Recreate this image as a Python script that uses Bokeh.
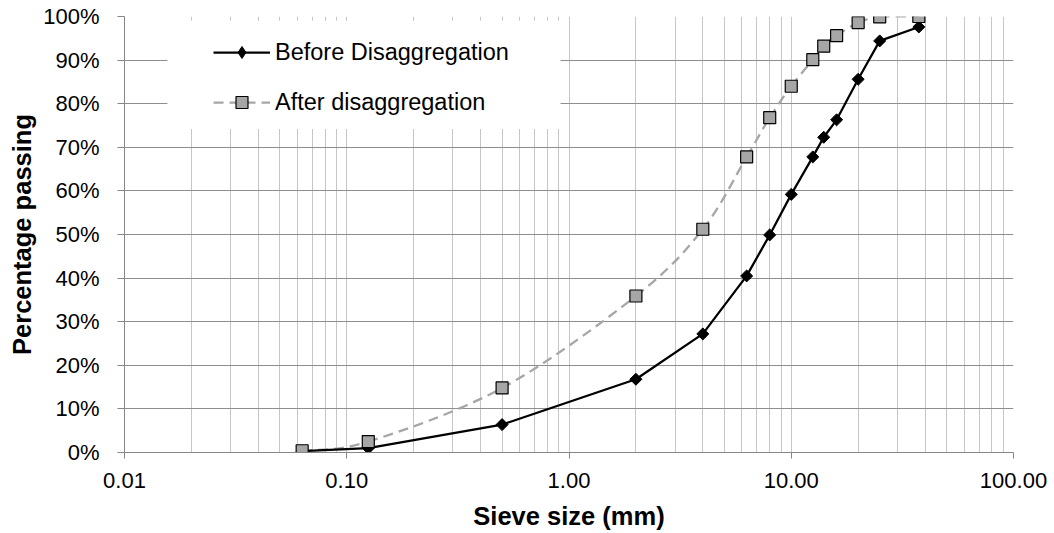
import numpy as np
from bokeh.plotting import figure
from bokeh.models import (FixedTicker, CustomJSTickFormatter, PrintfTickFormatter,
                          Legend, LegendItem, BoxAnnotation, Range1d)
from bokeh.embed import file_html
from bokeh.resources import INLINE

# ---- data ----
sieve_mm = [0.063, 0.125, 0.5, 2, 4, 6.3, 8, 10, 12.5, 14, 16, 20, 25, 37.5]
before_pct = [0.3, 1.0, 6.4, 16.8, 27.2, 40.5, 49.9, 59.2, 67.8, 72.3, 76.3, 85.6, 94.4, 97.6]
after_pct = [0.4, 2.5, 14.8, 35.9, 51.2, 67.8, 76.8, 84.0, 90.1, 93.2, 95.6, 98.6, 99.9, 100.0]
x_ticks = [0.01, 0.1, 1, 10, 100]
y_ticks = [0, 10, 20, 30, 40, 50, 60, 70, 80, 90, 100]
series_names = ["Before Disaggregation", "After disaggregation"]

FONT = "Liberation Sans"
x_minor = [m * 10.0 ** e for e in range(-2, 2) for m in range(2, 10)]

p = figure(x_axis_type="log", x_range=Range1d(0.01, 100), y_range=Range1d(0, 100),
           width=1054, height=533,
           min_border_left=124, min_border_right=41, min_border_top=16, min_border_bottom=81,
           output_backend="svg", toolbar_location=None)
p.outline_line_color = None
p.background_fill_color = "white"

# axes
for ax in (p.xaxis[0], p.yaxis[0]):
    ax.axis_line_color = "#868686"
    ax.major_tick_line_color = "#868686"
    ax.minor_tick_line_color = None
    ax.major_tick_in = 0
    ax.major_label_text_font = FONT
    ax.major_label_text_font_size = "22px"
    ax.major_label_text_color = "black"
    ax.axis_label_text_font = FONT
    ax.axis_label_text_font_size = "25.5px"
    ax.axis_label_text_font_style = "bold"
    ax.axis_label_text_color = "black"

p.xaxis.ticker = FixedTicker(ticks=x_ticks, minor_ticks=x_minor)
p.xaxis.formatter = CustomJSTickFormatter(code="return tick.toFixed(2);")
p.xaxis.major_tick_out = 6
p.xaxis.major_label_standoff = 14
p.xaxis.axis_label = "Sieve size (mm)"
p.xaxis.axis_label_standoff = 11

p.yaxis.ticker = FixedTicker(ticks=y_ticks)
p.yaxis.formatter = PrintfTickFormatter(format="%d%%")
p.yaxis.major_tick_out = 7
p.yaxis.major_label_standoff = 18
p.yaxis.axis_label = "Percentage passing"
p.yaxis.axis_label_standoff = 4

# grids
p.xgrid.grid_line_color = "#C6C6C6"
p.xgrid.minor_grid_line_color = "#C6C6C6"
p.ygrid.grid_line_color = "#8E8E8E"

# After disaggregation: smoothed dashed curve (Catmull-Rom -> Bezier in log-x space)
lx = np.log10(np.array(sieve_mm, dtype=float))
ya = np.array(after_pct, dtype=float)
n = len(lx)
x0s, y0s, x1s, y1s, cx0s, cy0s, cx1s, cy1s = [], [], [], [], [], [], [], []
for i in range(n - 1):
    i0 = max(i - 1, 0)
    i3 = min(i + 2, n - 1)
    c1x = lx[i] + (lx[i + 1] - lx[i0]) / 6.0
    c1y = ya[i] + (ya[i + 1] - ya[i0]) / 6.0
    c2x = lx[i + 1] - (lx[i3] - lx[i]) / 6.0
    c2y = ya[i + 1] - (ya[i3] - ya[i]) / 6.0
    x0s.append(10 ** lx[i]); y0s.append(ya[i])
    x1s.append(10 ** lx[i + 1]); y1s.append(ya[i + 1])
    cx0s.append(10 ** c1x); cy0s.append(c1y)
    cx1s.append(10 ** c2x); cy1s.append(c2y)

after_curve = p.bezier(x0=x0s, y0=y0s, x1=x1s, y1=y1s, cx0=cx0s, cy0=cy0s, cx1=cx1s, cy1=cy1s,
                       line_color="#A6A6A6", line_width=2.25, line_dash="10 6")

before_line = p.line(sieve_mm, before_pct, line_color="black", line_width=2.25)
before_pts = p.scatter(sieve_mm, before_pct, marker="square", angle=np.pi / 4, size=8.5,
                       fill_color="black", line_color="black")
after_pts = p.scatter(sieve_mm, after_pct, marker="square", size=12,
                      fill_color="#A6A6A6", line_color="black", line_width=1.2)

# legend-only proxy for the diamond symbol (legend glyphs are drawn unrotated)
before_key = p.scatter([float("nan")], [float("nan")], marker="diamond", size=12,
                       fill_color="black", line_color="black")

# white legend background
box = BoxAnnotation(left=0.0156, right=0.916, bottom=74.2, top=99.0,
                    fill_color="white", fill_alpha=1.0, line_color=None)
p.add_layout(box)

legend = Legend(items=[LegendItem(label=series_names[0], renderers=[before_line, before_key]),
                       LegendItem(label=series_names[1], renderers=[after_curve, after_pts])],
                location=(89, 335), orientation="vertical",
                background_fill_alpha=0.0, border_line_color=None,
                padding=0, margin=0, spacing=20,
                glyph_width=57, glyph_height=30, label_height=30, label_standoff=5,
                label_text_font=FONT, label_text_font_size="23.5px", label_text_color="black")
p.add_layout(legend)

open("out.html", "w").write(file_html(p, INLINE))
